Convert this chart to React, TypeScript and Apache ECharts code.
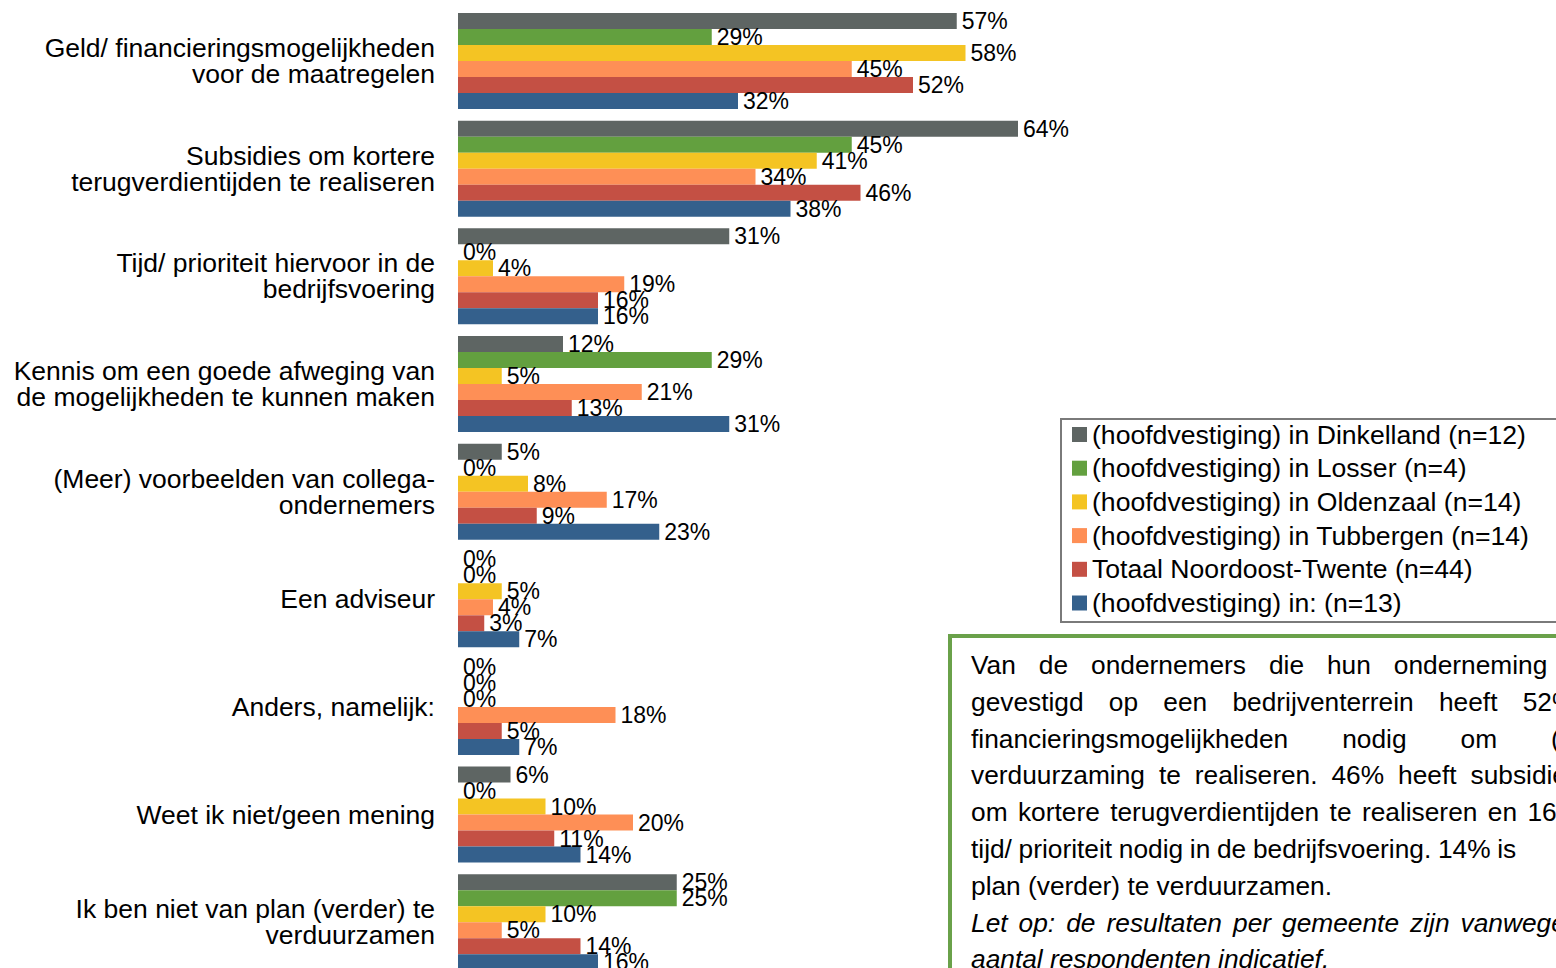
import React, { useEffect, useRef } from "react";
import * as echarts from "echarts";

const categories = [
  "Geld/ financieringsmogelijkheden\nvoor de maatregelen",
  "Subsidies om kortere\nterugverdientijden te realiseren",
  "Tijd/ prioriteit hiervoor in de\nbedrijfsvoering",
  "Kennis om een goede afweging van\nde mogelijkheden te kunnen maken",
  "(Meer) voorbeelden van collega-\nondernemers",
  "Een adviseur",
  "Anders, namelijk:",
  "Weet ik niet/geen mening",
  "Ik ben niet van plan (verder) te\nverduurzamen",
];

const seriesNames = [
  "(hoofdvestiging) in Dinkelland (n=12)",
  "(hoofdvestiging) in Losser (n=4)",
  "(hoofdvestiging) in Oldenzaal (n=14)",
  "(hoofdvestiging) in Tubbergen (n=14)",
  "Totaal Noordoost-Twente (n=44)",
  "(hoofdvestiging) in: (n=13)",
];

const dinkelland = [57, 64, 31, 12, 5, 0, 0, 6, 25];
const losser = [29, 45, 0, 29, 0, 0, 0, 0, 25];
const oldenzaal = [58, 41, 4, 5, 8, 5, 0, 10, 10];
const tubbergen = [45, 34, 19, 21, 17, 4, 18, 20, 5];
const totaal = [52, 46, 16, 13, 9, 3, 5, 11, 14];
const onbekend = [32, 38, 16, 31, 23, 7, 7, 14, 16];

const seriesValues = [dinkelland, losser, oldenzaal, tubbergen, totaal, onbekend];
const colors = ["#5E6563", "#63A03F", "#F4C423", "#FE8F56", "#C45044", "#34608C"];

// Text box content (justified lines: words, last-word x)
const boxLines = [
  { words: ["Van", "de", "ondernemers", "die", "hun", "onderneming"], last: 1393.8, italic: false },
  { words: ["gevestigd", "op", "een", "bedrijventerrein", "heeft", "52%"], last: 1522.7, italic: false },
  { words: ["financieringsmogelijkheden", "nodig", "om", "("], last: 1551, italic: false },
  { words: ["verduurzaming", "te", "realiseren.", "46%", "heeft", "subsidies"], last: 1470.5, italic: false },
  { words: ["om", "kortere", "terugverdientijden", "te", "realiseren", "en", "16%"], last: 1527.4, italic: false },
  { words: ["tijd/", "prioriteit", "nodig", "in", "de", "bedrijfsvoering.", "14%", "is"], last: 1497.2, italic: false },
  { words: ["plan (verder) te verduurzamen."], last: 0, italic: false },
  { words: ["Let", "op:", "de", "resultaten", "per", "gemeente", "zijn", "vanwege"], last: 1460.6, italic: true },
  { words: ["aantal respondenten indicatief."], last: 0, italic: true },
];

const FONT = "'Liberation Sans', Arial, sans-serif";

function buildBoxText(): any[] {
  const canvas = document.createElement("canvas");
  const ctx = canvas.getContext("2d") as CanvasRenderingContext2D;
  const out: any[] = [];
  const x0 = 971;
  const y0 = 665;
  const lh = 36.8;
  const fs = 26.3;
  boxLines.forEach((line, li) => {
    const y = y0 + li * lh;
    ctx.font = `${line.italic ? "italic " : ""}${fs}px 'Liberation Sans'`;
    const n = line.words.length;
    let xs: number[] = [x0];
    if (n > 1) {
      let sum = 0;
      for (let i = 0; i < n - 1; i++) sum += ctx.measureText(line.words[i]).width;
      const gap = (line.last - x0 - sum) / (n - 1);
      xs = [];
      let cx = x0;
      for (let i = 0; i < n; i++) {
        xs.push(cx);
        cx += ctx.measureText(line.words[i]).width + gap;
      }
      xs[n - 1] = line.last;
    }
    line.words.forEach((w, i) => {
      out.push({
        type: "text",
        x: xs[i],
        y,
        z: 10,
        style: {
          text: w,
          fontSize: fs,
          fontFamily: FONT,
          fontStyle: line.italic ? "italic" : "normal",
          fill: "#000",
          textAlign: "left",
          textVerticalAlign: "middle",
          align: "left",
          verticalAlign: "middle",
        },
      });
    });
  });
  return out;
}

const CHART_H = 985;

export default function App() {
  const ref = useRef<HTMLDivElement>(null);
  useEffect(() => {
    if (!ref.current) return;
    const chart = echarts.init(ref.current, undefined, { renderer: "svg" });
    const option: any = {
      animation: false,
      color: colors,
      textStyle: { fontFamily: FONT },
      grid: { left: 458, right: 223, top: 7.2, bottom: CHART_H - 7.2 - 968.9, containLabel: false },
      xAxis: { type: "value", min: 0, max: 100, show: false },
      yAxis: {
        type: "category",
        data: categories,
        inverse: true,
        axisLine: { show: false },
        axisTick: { show: false },
        splitLine: { show: false },
        axisLabel: {
          fontSize: 26.5,
          color: "#000",
          margin: 23,
          lineHeight: 26,
          align: "right",
          fontFamily: FONT,
        },
      },
      legend: {
        orient: "vertical",
        left: 1072,
        top: 421,
        padding: 0,
        itemWidth: 15,
        itemHeight: 15,
        itemGap: 6.7,
        icon: "rect",
        data: seriesNames,
        textStyle: { fontSize: 26.6, color: "#000", lineHeight: 26, fontFamily: FONT },
      },
      series: seriesNames.map((name, i) => ({
        type: "bar",
        name,
        data: seriesValues[i],
        barWidth: 16,
        barGap: "0%",
        label: {
          show: true,
          position: "right",
          distance: 5,
          formatter: "{c}%",
          fontSize: 23,
          color: "#000",
          fontFamily: FONT,
        },
      })),
      graphic: [
        {
          type: "rect",
          shape: { x: 1061, y: 419, width: 600, height: 203 },
          style: { fill: "rgba(0,0,0,0)", stroke: "#7a7a7a", lineWidth: 2 },
          z: 5,
        },
        {
          type: "rect",
          shape: { x: 950, y: 636, width: 700, height: 400 },
          style: { fill: "rgba(0,0,0,0)", stroke: "#6AA14A", lineWidth: 4 },
          z: 5,
        },
        ...buildBoxText(),
      ],
    };
    chart.setOption(option);
    return () => chart.dispose();
  }, []);
  return (
    <div
      style={{
        position: "absolute",
        left: 0,
        top: 0,
        width: 1556,
        height: 968,
        overflow: "hidden",
      }}
    >
      <div ref={ref} style={{ width: 1556, height: CHART_H }} />
    </div>
  );
}
